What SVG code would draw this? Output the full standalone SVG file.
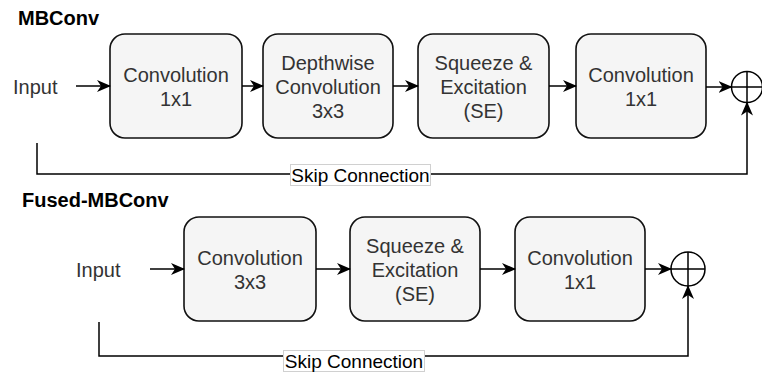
<svg xmlns="http://www.w3.org/2000/svg" width="762" height="372" viewBox="0 0 762 372">
  <style>
    .title { font-family: "Liberation Sans", Arial, sans-serif; font-weight: bold; font-size: 20px; fill: #000; }
    .box { fill: #f5f5f5; stroke: #111; stroke-width: 1.6; }
    .lbl { font-family: "Liberation Sans", Arial, sans-serif; font-size: 20px; fill: #333; text-anchor: middle; }
    .inp { font-family: "Liberation Sans", Arial, sans-serif; font-size: 20px; fill: #333; }
    .edge { fill: none; stroke: #000; stroke-width: 1.5; }
    .sum { fill: #fff; stroke: #000; stroke-width: 1.5; }
    .skipbg { fill: #fff; stroke: #d0d0d0; stroke-width: 1; }
    .skip { font-family: "Liberation Sans", Arial, sans-serif; font-size: 19px; fill: #000; text-anchor: middle; }
  </style>
  <defs>
    <marker id="arrow" viewBox="0 0 14 12" refX="13" refY="6" markerWidth="14" markerHeight="12" markerUnits="userSpaceOnUse" orient="auto">
      <path d="M0,0 L14,6 L0,12 L4,6 Z" fill="#000"/>
    </marker>
  </defs>

  <!-- MBConv block -->
  <text class="title" x="18" y="25">MBConv</text>
  <text class="inp" x="13" y="94">Input</text>

  <g id="mb-conv1">
    <rect class="box" x="110" y="34" width="132" height="104" rx="15"/>
    <text class="lbl" x="176" y="82">Convolution</text>
    <text class="lbl" x="176" y="106">1x1</text>
  </g>
  <g id="mb-dwconv">
    <rect class="box" x="263" y="34" width="130" height="104" rx="15"/>
    <text class="lbl" x="328" y="70">Depthwise</text>
    <text class="lbl" x="328" y="94">Convolution</text>
    <text class="lbl" x="328" y="118">3x3</text>
  </g>
  <g id="mb-se">
    <rect class="box" x="418" y="34" width="131" height="104" rx="15"/>
    <text class="lbl" x="483.5" y="70">Squeeze &amp;</text>
    <text class="lbl" x="483.5" y="94">Excitation</text>
    <text class="lbl" x="483.5" y="118">(SE)</text>
  </g>
  <g id="mb-conv2">
    <rect class="box" x="576" y="34" width="130" height="104" rx="15"/>
    <text class="lbl" x="641" y="82">Convolution</text>
    <text class="lbl" x="641" y="106">1x1</text>
  </g>
  <g id="mb-sum">
    <circle class="sum" cx="747" cy="87" r="15.5"/>
    <path class="edge" d="M731.5,87 H762.5 M747,71.5 V102.5"/>
  </g>

  <!-- Fused-MBConv block -->
  <text class="title" x="22" y="207">Fused-MBConv</text>
  <text class="inp" x="76" y="277">Input</text>

  <g id="fmb-conv1">
    <rect class="box" x="184" y="217" width="132" height="104" rx="15"/>
    <text class="lbl" x="250" y="265">Convolution</text>
    <text class="lbl" x="250" y="289">3x3</text>
  </g>
  <g id="fmb-se">
    <rect class="box" x="350" y="217" width="130" height="104" rx="15"/>
    <text class="lbl" x="415" y="253">Squeeze &amp;</text>
    <text class="lbl" x="415" y="277">Excitation</text>
    <text class="lbl" x="415" y="301">(SE)</text>
  </g>
  <g id="fmb-conv2">
    <rect class="box" x="515" y="217" width="130" height="104" rx="15"/>
    <text class="lbl" x="580" y="265">Convolution</text>
    <text class="lbl" x="580" y="289">1x1</text>
  </g>
  <g id="fmb-sum">
    <circle class="sum" cx="688" cy="269" r="17"/>
    <path class="edge" d="M671,269 H705 M688,252 V286"/>
  </g>

  <!-- connectors -->
  <g id="connectors">
    <path class="edge" d="M76,86 H110" marker-end="url(#arrow)"/>
    <path class="edge" d="M242,86 H263" marker-end="url(#arrow)"/>
    <path class="edge" d="M393,86 H418" marker-end="url(#arrow)"/>
    <path class="edge" d="M549,86 H576" marker-end="url(#arrow)"/>
    <path class="edge" d="M706,87 H731.5" marker-end="url(#arrow)"/>
    <path class="edge" d="M37,143 V174 H747 V102.5" marker-end="url(#arrow)"/>

    <path class="edge" d="M150,269 H184" marker-end="url(#arrow)"/>
    <path class="edge" d="M316,269 H350" marker-end="url(#arrow)"/>
    <path class="edge" d="M480,269 H515" marker-end="url(#arrow)"/>
    <path class="edge" d="M645,269 H671" marker-end="url(#arrow)"/>
    <path class="edge" d="M99,322 V356 H688 V286" marker-end="url(#arrow)"/>

    <g id="skip-label-1">
      <rect class="skipbg" x="290.5" y="164.5" width="140" height="21"/>
      <text class="skip" x="360.5" y="181.5">Skip Connection</text>
    </g>
    <g id="skip-label-2">
      <rect class="skipbg" x="283.5" y="350.5" width="141" height="21"/>
      <text class="skip" x="354" y="367.5">Skip Connection</text>
    </g>
  </g>
</svg>
